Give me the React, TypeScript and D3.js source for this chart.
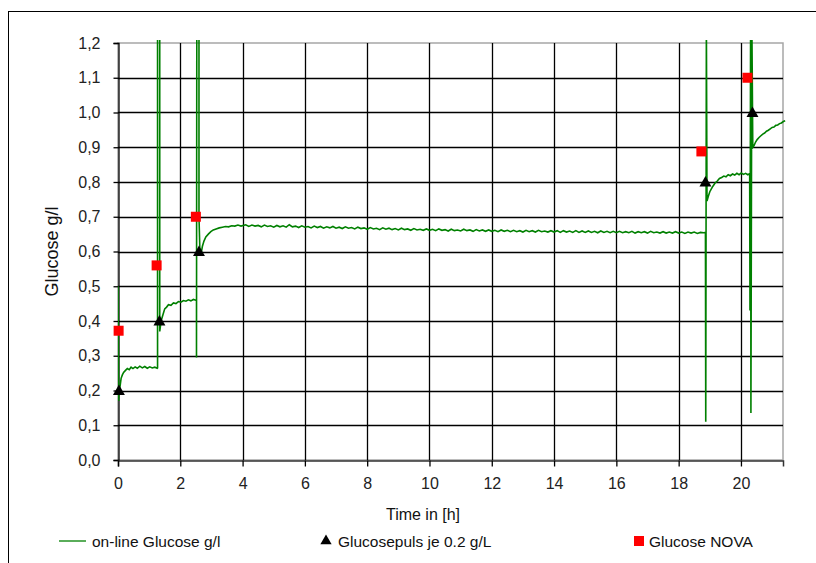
import React, { useEffect, useRef } from 'react';
import * as d3 from 'd3';

// on-line glucose trace [time h, glucose g/l] (spikes go off the top)
const onlineGlucose: [number, number][] = [
  [0.0, 0.5], [0.02, 0.17], [0.04, 0.2], [0.07, 0.215], [0.1, 0.235], [0.14, 0.245], [0.18, 0.252],
  [0.24, 0.258], [0.3, 0.263], [0.36, 0.26], [0.42, 0.267], [0.48, 0.263], [0.55, 0.268],
  [0.62, 0.264], [0.7, 0.27], [0.78, 0.265], [0.86, 0.269], [0.94, 0.264], [1.02, 0.268],
  [1.1, 0.265], [1.18, 0.267], [1.26, 0.264],
  [1.27, 0.265], [1.27, 1.26], [1.34, 1.26], [1.34, 0.37],
  [1.37, 0.39], [1.4, 0.405], [1.45, 0.42], [1.5, 0.435], [1.56, 0.44], [1.62, 0.447],
  [1.7, 0.445], [1.78, 0.452], [1.86, 0.45], [1.94, 0.456], [2.02, 0.454], [2.1, 0.459],
  [2.18, 0.457], [2.26, 0.461], [2.34, 0.458], [2.42, 0.462], [2.5, 0.46],
  [2.52, 0.46], [2.52, 0.295], [2.53, 1.26], [2.6, 1.26], [2.6, 0.7],
  [2.63, 0.6], [2.67, 0.595], [2.71, 0.615], [2.76, 0.63], [2.82, 0.642], [2.9, 0.65],
  [2.98, 0.657], [3.06, 0.662], [3.15, 0.665], [3.25, 0.668], [3.35, 0.67], [3.45, 0.672],
  [3.55, 0.671], [3.65, 0.674], [3.75, 0.673], [3.85, 0.676], [3.95, 0.673],
  [4.1, 0.677], [4.2, 0.672], [4.3, 0.676], [4.4, 0.673], [4.5, 0.675], [4.6, 0.671],
  [4.7, 0.676], [4.8, 0.672], [4.9, 0.674], [5.0, 0.67], [5.1, 0.675], [5.2, 0.671],
  [5.3, 0.674], [5.4, 0.67], [5.5, 0.677], [5.6, 0.671], [5.7, 0.673], [5.8, 0.669],
  [5.9, 0.674], [6.0, 0.67], [6.1, 0.672], [6.2, 0.668], [6.3, 0.673], [6.4, 0.669],
  [6.5, 0.672], [6.6, 0.667], [6.7, 0.671], [6.8, 0.668], [6.9, 0.672], [7.0, 0.667],
  [7.1, 0.67], [7.2, 0.666], [7.3, 0.671], [7.4, 0.667], [7.5, 0.669], [7.6, 0.665],
  [7.7, 0.67], [7.8, 0.666], [7.9, 0.668], [8.0, 0.664], [8.1, 0.669], [8.2, 0.665],
  [8.3, 0.667], [8.4, 0.663], [8.5, 0.668], [8.6, 0.664], [8.7, 0.667], [8.8, 0.663],
  [8.9, 0.666], [9.0, 0.662], [9.1, 0.667], [9.2, 0.663], [9.3, 0.665], [9.4, 0.661],
  [9.5, 0.666], [9.6, 0.662], [9.7, 0.664], [9.8, 0.661], [9.9, 0.665], [10.0, 0.661],
  [10.1, 0.664], [10.2, 0.66], [10.3, 0.665], [10.4, 0.661], [10.5, 0.663], [10.6, 0.659],
  [10.7, 0.664], [10.8, 0.66], [10.9, 0.662], [11.0, 0.659], [11.1, 0.664], [11.2, 0.66],
  [11.3, 0.662], [11.4, 0.658], [11.5, 0.663], [11.6, 0.659], [11.7, 0.662], [11.8, 0.658],
  [11.9, 0.662], [12.0, 0.658], [12.1, 0.661], [12.2, 0.657], [12.3, 0.662], [12.4, 0.658],
  [12.5, 0.661], [12.6, 0.657], [12.7, 0.661], [12.8, 0.657], [12.9, 0.66], [13.0, 0.656],
  [13.1, 0.661], [13.2, 0.657], [13.3, 0.66], [13.4, 0.656], [13.5, 0.661], [13.6, 0.657],
  [13.7, 0.659], [13.8, 0.656], [13.9, 0.66], [14.0, 0.656], [14.1, 0.66], [14.2, 0.655],
  [14.3, 0.66], [14.4, 0.656], [14.5, 0.659], [14.6, 0.655], [14.7, 0.66], [14.8, 0.655],
  [14.9, 0.659], [15.0, 0.655], [15.1, 0.659], [15.2, 0.655], [15.3, 0.658], [15.4, 0.654],
  [15.5, 0.659], [15.6, 0.655], [15.7, 0.658], [15.8, 0.654], [15.9, 0.658], [16.0, 0.654],
  [16.1, 0.658], [16.2, 0.654], [16.3, 0.657], [16.4, 0.654], [16.5, 0.658], [16.6, 0.653],
  [16.7, 0.657], [16.8, 0.654], [16.9, 0.657], [17.0, 0.653], [17.1, 0.658], [17.2, 0.654],
  [17.3, 0.656], [17.4, 0.653], [17.5, 0.657], [17.6, 0.653], [17.7, 0.656], [17.8, 0.653],
  [17.9, 0.657], [18.0, 0.653], [18.1, 0.656], [18.2, 0.652], [18.3, 0.656], [18.4, 0.653],
  [18.5, 0.656], [18.6, 0.652], [18.7, 0.655], [18.8, 0.654], [18.86, 0.655],
  [18.87, 0.11], [18.89, 1.26], [18.91, 0.745],
  [18.95, 0.758], [19.0, 0.772], [19.05, 0.78], [19.1, 0.788], [19.17, 0.797], [19.24, 0.803],
  [19.31, 0.81], [19.38, 0.813], [19.45, 0.817], [19.52, 0.815], [19.59, 0.821], [19.66, 0.818],
  [19.73, 0.823], [19.8, 0.82], [19.87, 0.825], [19.94, 0.821], [20.01, 0.826], [20.08, 0.822],
  [20.15, 0.825], [20.22, 0.821], [20.28, 0.824],
  [20.29, 0.43], [20.31, 1.26], [20.32, 0.135], [20.35, 1.26], [20.38, 0.9],
  [20.42, 0.905], [20.47, 0.915], [20.52, 0.922], [20.58, 0.928], [20.64, 0.933], [20.7, 0.938],
  [20.76, 0.941], [20.82, 0.946], [20.88, 0.949], [20.94, 0.953], [21.0, 0.957], [21.06, 0.958],
  [21.12, 0.963], [21.18, 0.964], [21.24, 0.968], [21.3, 0.97], [21.36, 0.974], [21.42, 0.976],
];

const pulseTime = [0.03, 1.33, 2.6, 18.86, 20.37];
const pulseGlucose = [0.2, 0.4, 0.6, 0.8, 1.0];

const novaTime = [0.02, 1.24, 2.5, 18.73, 20.21];
const novaGlucose = [0.372, 0.56, 0.7, 0.888, 1.1];

const xTicks = [0, 2, 4, 6, 8, 10, 12, 14, 16, 18, 20];
const yTicks = [0, 0.1, 0.2, 0.3, 0.4, 0.5, 0.6, 0.7, 0.8, 0.9, 1.0, 1.1, 1.2];

const legendLabels = ['on-line Glucose g/l', 'Glucosepuls je 0.2 g/L', 'Glucose NOVA'];

const App = () => {
  const ref = useRef<SVGSVGElement>(null);

  useEffect(() => {
    const svg = d3.select(ref.current);
    svg.selectAll('*').remove();

    const font = 'Liberation Sans, Arial, sans-serif';
    const left = 118, right = 783, top = 43, bottom = 460;

    const x = d3.scaleLinear().domain([0, 21.35]).range([left, right]);
    const y = d3.scaleLinear().domain([0, 1.2]).range([bottom, top]);

    // outer frame
    svg.append('rect')
      .attr('x', 8.5).attr('y', 11.5)
      .attr('width', 820).attr('height', 560)
      .attr('fill', 'white').attr('stroke', '#000').attr('stroke-width', 1);

    svg.append('defs').append('clipPath').attr('id', 'plotclip')
      .append('rect')
      .attr('x', left).attr('y', top - 3)
      .attr('width', right - left + 6).attr('height', bottom - top + 3);

    // plot border (gray)
    svg.append('rect')
      .attr('x', left).attr('y', top)
      .attr('width', right - left).attr('height', bottom - top)
      .attr('fill', 'none').attr('stroke', '#a6a6a6').attr('stroke-width', 1.5);

    // horizontal gridlines
    svg.selectAll('.hgrid')
      .data(yTicks.filter(d => d > 0 && d < 1.2))
      .enter().append('line')
      .attr('x1', left).attr('x2', right)
      .attr('y1', d => Math.round(y(d)) + 0.5).attr('y2', d => Math.round(y(d)) + 0.5)
      .attr('stroke', '#000').attr('stroke-width', 1.3);

    // vertical gridlines
    svg.selectAll('.vgrid')
      .data(xTicks.filter(d => d > 0))
      .enter().append('line')
      .attr('x1', d => Math.round(x(d)) + 0.5).attr('x2', d => Math.round(x(d)) + 0.5)
      .attr('y1', top).attr('y2', bottom)
      .attr('stroke', '#000').attr('stroke-width', 1.3);

    // axes
    const yAxis = svg.append('g')
      .attr('transform', `translate(${left + 0.5},0)`)
      .call(d3.axisLeft(y).tickValues(yTicks).tickSize(5).tickPadding(13)
        .tickFormat(d => d3.format('.1f')(d as number).replace('.', ',')));
    yAxis.select('.domain').attr('stroke', '#000').attr('stroke-width', 1.3);
    yAxis.selectAll('.tick line').attr('stroke', '#000').attr('stroke-width', 1.3);
    yAxis.selectAll('.tick text')
      .attr('font-family', font).attr('font-size', 16).attr('fill', '#222');

    const xAxis = svg.append('g')
      .attr('transform', `translate(0,${bottom + 0.5})`)
      .call(d3.axisBottom(x).tickValues(xTicks).tickSize(6).tickPadding(11));
    xAxis.select('.domain').attr('stroke', '#333').attr('stroke-width', 1.5);
    xAxis.selectAll('.tick line').attr('stroke', '#000').attr('stroke-width', 1.3);
    xAxis.selectAll('.tick text')
      .attr('font-family', font).attr('font-size', 16).attr('fill', '#222');

    // on-line glucose line
    const line = d3.line<[number, number]>()
      .x(d => x(d[0]))
      .y(d => y(d[1]));

    svg.append('path')
      .datum(onlineGlucose)
      .attr('clip-path', 'url(#plotclip)')
      .attr('d', line)
      .attr('fill', 'none')
      .attr('stroke', '#008000')
      .attr('stroke-width', 1.6);

    // NOVA squares
    svg.selectAll('.nova')
      .data(novaTime)
      .enter().append('rect')
      .attr('x', (d) => x(d) - 5)
      .attr('y', (d, i) => y(novaGlucose[i]) - 5)
      .attr('width', 10).attr('height', 10)
      .attr('fill', '#ff0000');

    // glucose pulse triangles
    svg.selectAll('.pulse')
      .data(pulseTime)
      .enter().append('path')
      .attr('d', d3.symbol().type(d3.symbolTriangle).size(62))
      .attr('transform', (d, i) => `translate(${x(d)},${y(pulseGlucose[i]) + 1})`)
      .attr('fill', '#000');

    // axis titles
    svg.append('text')
      .attr('x', 423).attr('y', 520)
      .attr('text-anchor', 'middle')
      .attr('font-family', font).attr('font-size', 16).attr('fill', '#111')
      .text('Time in [h]');

    svg.append('text')
      .attr('transform', `translate(58,${(top + bottom) / 2}) rotate(-90)`)
      .attr('text-anchor', 'middle')
      .attr('font-family', font).attr('font-size', 18).attr('fill', '#111')
      .text('Glucose g/l');

    // legend
    const ly = 541;
    svg.append('line')
      .attr('x1', 59).attr('x2', 86).attr('y1', ly).attr('y2', ly)
      .attr('stroke', '#008000').attr('stroke-width', 1.3);
    svg.append('path')
      .attr('d', d3.symbol().type(d3.symbolTriangle).size(55))
      .attr('transform', `translate(326,${ly})`)
      .attr('fill', '#000');
    svg.append('rect')
      .attr('x', 634).attr('y', ly - 5).attr('width', 10).attr('height', 10)
      .attr('fill', '#ff0000');

    const legendX = [92, 338, 649];
    svg.selectAll('.legtext')
      .data(legendLabels)
      .enter().append('text')
      .attr('x', (d, i) => legendX[i]).attr('y', ly + 5.5)
      .attr('font-family', font).attr('font-size', 15.5).attr('fill', '#111')
      .text(d => d);
  }, []);

  return (
    <svg ref={ref} width={816} height={563}
      style={{ position: 'absolute', left: 0, top: 0, background: 'white' }} />
  );
};

export default App;
